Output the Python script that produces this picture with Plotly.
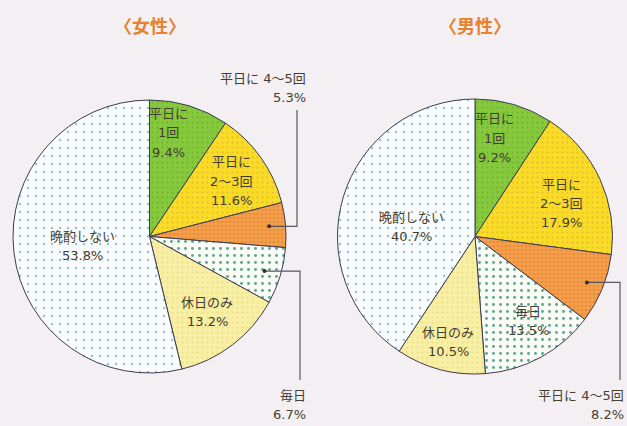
import math
import plotly.graph_objects as go

W, H = 627, 426

categories = ["平日に1回", "平日に2～3回", "平日に4～5回", "毎日", "休日のみ", "晩酌しない"]
label_lines = [["平日に", "1回"], ["平日に", "2～3回"], ["平日に 4～5回"], ["毎日"], ["休日のみ"], ["晩酌しない"]]
female_values = [9.4, 11.6, 5.3, 6.7, 13.2, 53.8]
male_values = [9.2, 17.9, 8.2, 13.5, 10.5, 40.7]
titles = ["〈女性〉", "〈男性〉"]

colors = ["#86c93c", "#f8dc26", "#f39e48", "#fbfbf6", "#f8efa6", "#fafbfc"]
dot_colors = ["#6cb030", "#eab434", "#e2752e", "#5aa892", "#efdc7a", "#8cc4dc"]
dot_sizes = [5, 5, 4, 7, 5, 8]
dot_solidity = [0.1, 0.1, 0.15, 0.14, 0.1, 0.07]

TEXT = "#433e30"
FONT = "DejaVu Sans, Noto Sans CJK JP"
TFONT = "Noto Sans CJK JP"
BG = "#f3eff3"
LINE_H = 19

# pie geometry in pixels (center x, center y, radius)
pies = [(149.5, 236.5, 136.5), (475, 236.5, 137.5)]


def px(x):
    return x / W


def py(y):
    return 1 - y / H


fig = go.Figure()
for (cx, cy, r), vals in zip(pies, [female_values, male_values]):
    fig.add_trace(go.Pie(
        labels=categories, values=vals, sort=False, direction="clockwise",
        rotation=0, textinfo="none", hoverinfo="label+value",
        domain=dict(x=[px(cx - r), px(cx + r)], y=[py(cy + r), py(cy - r)]),
        marker=dict(
            colors=colors,
            line=dict(color="#3c3c52", width=1),
            pattern=dict(shape=["."] * len(colors), fgcolor=dot_colors, bgcolor=colors,
                         size=dot_sizes, solidity=dot_solidity),
        ),
        showlegend=False,
    ))

annotations = []
shapes = []

# titles
for (cx, cy, r), t in zip(pies, titles):
    annotations.append(dict(x=px(cx), y=py(25), xref="paper", yref="paper",
                            xanchor="center", yanchor="middle",
                            text=t, showarrow=False,
                            font=dict(family=TFONT, size=18, color="#e8802c", weight="bold")))


def add_block(lines, x, y_center, xanchor):
    n = len(lines)
    for k, line in enumerate(lines):
        yy = y_center + (k - (n - 1) / 2) * LINE_H
        annotations.append(dict(x=px(x), y=py(yy), xref="paper", yref="paper",
                                xanchor=xanchor, yanchor="middle",
                                text=line, showarrow=False,
                                font=dict(family=FONT, size=13, color=TEXT)))


# inside labels: (pie index, category index, x, y)
inside = [
    (0, 0, 168, 133), (0, 1, 231, 181), (0, 5, 82, 246), (0, 4, 207, 312),
    (1, 0, 494, 138), (1, 1, 561, 203), (1, 5, 411, 227), (1, 3, 528, 321),
    (1, 4, 448, 342),
]
for p, i, x, y in inside:
    vals = female_values if p == 0 else male_values
    add_block(label_lines[i] + [f"{vals[i]:.1f}%"], x, y, "center")


def mid_point(p, i, frac):
    vals = female_values if p == 0 else male_values
    cx, cy, r = pies[p]
    tot = sum(vals)
    start = sum(vals[:i])
    ang = (start + vals[i] / 2) / tot * 2 * math.pi
    return cx + frac * r * math.sin(ang), cy - frac * r * math.cos(ang)


# outside labels with leader lines: (pie, cat, elbow x, end y, text right x, text center y)
outside = [
    (0, 2, 297, 110, 308, 88),
    (0, 3, 300, 380, 308, 405),
    (1, 2, 620, 380, 626, 405),
]
for p, i, ex, ey, tx, ty in outside:
    vals = female_values if p == 0 else male_values
    dx, dy = mid_point(p, i, 0.88)
    shapes.append(dict(type="path", xref="paper", yref="paper",
                       path=f"M {px(dx)} {py(dy)} L {px(ex)} {py(dy)} L {px(ex)} {py(ey)}",
                       line=dict(color="#5a5660", width=1.2)))
    shapes.append(dict(type="circle", xref="paper", yref="paper",
                       x0=px(dx - 2), x1=px(dx + 2), y0=py(dy + 2), y1=py(dy - 2),
                       fillcolor="#3a2a2a", line=dict(width=0)))
    add_block(label_lines[i] + [f"{vals[i]:.1f}%"], tx, ty, "right")

fig.update_layout(
    width=W, height=H, margin=dict(l=0, r=0, t=0, b=0),
    paper_bgcolor=BG, plot_bgcolor=BG,
    annotations=annotations, shapes=shapes,
)
fig.write_html(
    "out.html",
    config={"displayModeBar": False},
    post_script=f"document.body.style.margin='0';document.body.style.background='{BG}';"
                "document.body.style.overflow='hidden';",
)
